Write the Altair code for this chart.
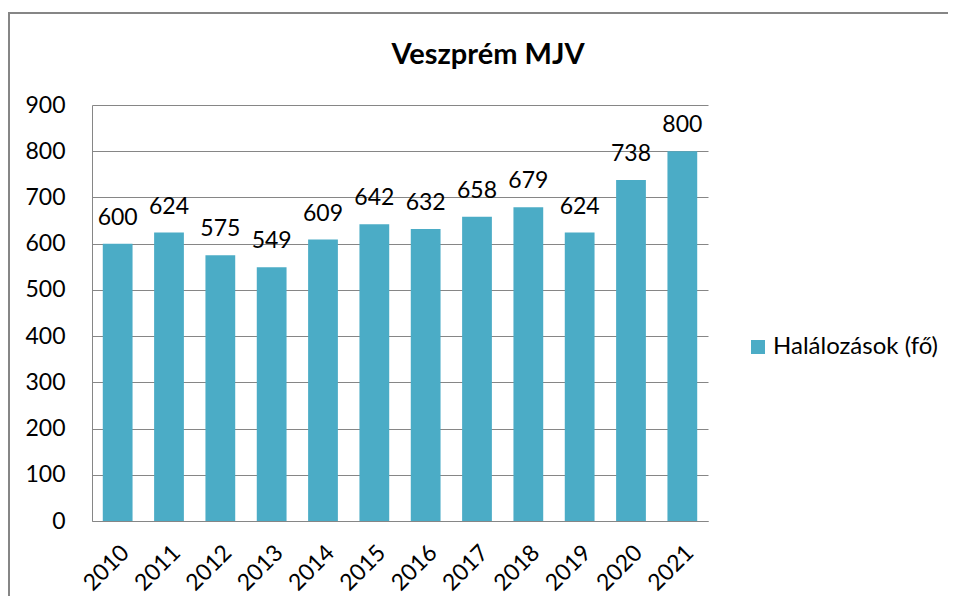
import altair as alt
import pandas as pd

years = ["2010", "2011", "2012", "2013", "2014", "2015", "2016", "2017", "2018", "2019", "2020", "2021"]
deaths = [600, 624, 575, 549, 609, 642, 632, 658, 679, 624, 738, 800]
series_name = "Halálozások (fő)"
y_ticks = [0, 100, 200, 300, 400, 500, 600, 700, 800, 900]

df = pd.DataFrame({"year": years, "value": deaths, "series": [series_name] * len(years)})

FONT = "Lato"
GRAY = "#868686"

base = alt.Chart(df)

x_enc = alt.X(
    "year:N",
    title=None,
    scale=alt.Scale(paddingInner=0.42, paddingOuter=0.21),
    axis=alt.Axis(
        labelAngle=-45,
        labelFontSize=23,
        labelFont=FONT,
        labelColor="#000000",
        labelPadding=20,
        ticks=False,
        domainColor=GRAY,
        domainWidth=1,
        grid=False,
    ),
)
y_enc = alt.Y(
    "value:Q",
    title=None,
    scale=alt.Scale(domain=[0, 900], nice=False),
    axis=alt.Axis(
        values=y_ticks,
        labelFontSize=23,
        labelFont=FONT,
        labelColor="#000000",
        labelPadding=27,
        ticks=False,
        domainColor=GRAY,
        gridColor=GRAY,
        gridWidth=1,
    ),
)

bars = base.mark_bar(color="#4BACC6").encode(
    x=x_enc,
    y=y_enc,
    color=alt.Color(
        "series:N",
        scale=alt.Scale(range=["#4BACC6"]),
        legend=alt.Legend(
            title=None,
            orient="none",
            legendX=654,
            legendY=230,
            symbolType="square",
            symbolSize=196,
            symbolStrokeWidth=0,
            labelFontSize=24,
            labelFont=FONT,
            labelColor="#000000",
            labelOffset=3,
            labelLimit=400,
            padding=0,
        ),
    ),
)

labels = base.mark_text(
    baseline="alphabetic", dy=-19, fontSize=23, font=FONT, color="#000000"
).encode(x="year:N", y="value:Q", text="value:Q")

frame_df = pd.DataFrame({"k": [0]})
frame = alt.Chart(frame_df).mark_rect(
    fill=None, filled=False, stroke=GRAY, strokeWidth=2
).encode(
    x=alt.value(-83),
    x2=alt.value(1000),
    y=alt.value(-92),
    y2=alt.value(600),
)

chart = alt.layer(frame, bars, labels).properties(
    width=616,
    height=416,
    autosize=alt.AutoSizeParams(type="none"),
    padding={"left": 84, "top": 97, "right": 240, "bottom": 75},
    title=alt.Title(
        "Veszprém MJV",
        font=FONT,
        fontSize=29,
        fontWeight="bold",
        color="#000000",
        anchor="middle",
        frame="group",
        dx=88,
        offset=-81,
        baseline="alphabetic",
    ),
).configure_view(stroke=None)

chart.save("out.html", embed_options={"renderer": "svg", "actions": False})
